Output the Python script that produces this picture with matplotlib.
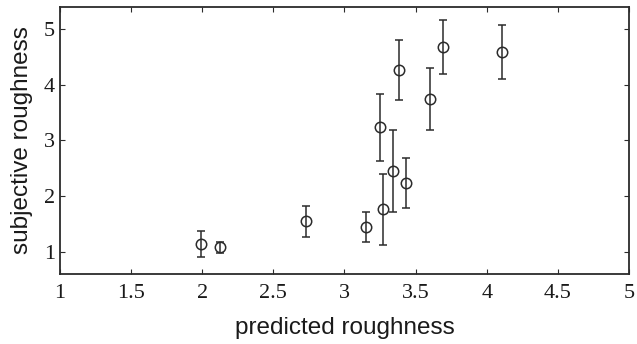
import matplotlib
matplotlib.use("Agg")
import matplotlib.pyplot as plt

predicted = [1.99, 2.125, 2.73, 3.15, 3.27, 3.25, 3.34, 3.43, 3.385, 3.60, 3.69, 4.11]
subjective = [1.14, 1.08, 1.56, 1.45, 1.77, 3.24, 2.45, 2.24, 4.27, 3.74, 4.68, 4.59]
err_upper = [0.23, 0.10, 0.27, 0.27, 0.63, 0.59, 0.73, 0.45, 0.54, 0.56, 0.49, 0.48]
err_lower = [0.23, 0.10, 0.30, 0.27, 0.64, 0.61, 0.73, 0.46, 0.54, 0.56, 0.48, 0.48]
xticks = [1, 1.5, 2, 2.5, 3, 3.5, 4, 4.5, 5]
xticklabels = ["1", "1.5", "2", "2.5", "3", "3.5", "4", "4.5", "5"]
yticks = [1, 2, 3, 4, 5]
yticklabels = ["1", "2", "3", "4", "5"]

fig = plt.figure(figsize=(6.37, 3.44), dpi=100)
ax = fig.add_axes([0.0942, 0.2035, 0.8932, 0.7762])
col = "#2b2b2b"
ax.errorbar(predicted, subjective, yerr=[err_lower, err_upper], fmt="o",
            mfc="none", mec=col, ecolor=col, ms=7.5, mew=1.1,
            elinewidth=1.1, capsize=3, capthick=1.1)
ax.set_xlim(1, 5)
ax.set_ylim(0.6, 5.4)
ax.set_xticks(xticks)
ax.set_xticklabels(xticklabels, family="Liberation Serif", fontsize=16)
ax.set_yticks(yticks)
ax.set_yticklabels(yticklabels, family="Liberation Serif", fontsize=16)
ax.tick_params(direction="in", length=3.5, width=0.8, top=True, right=True,
               colors=col, labelcolor="#1a1a1a")
ax.tick_params(axis="x", pad=7.5)
ax.tick_params(axis="y", pad=3.5)
for s in ax.spines.values():
    s.set_linewidth(1.3)
    s.set_color(col)
ax.set_xlabel("predicted roughness", family="Liberation Sans", fontsize=17.5, color="#1a1a1a", labelpad=10)
ax.set_ylabel("subjective roughness", family="Liberation Sans", fontsize=17.5, color="#1a1a1a", labelpad=8)
fig.savefig("out.png", dpi=100)
